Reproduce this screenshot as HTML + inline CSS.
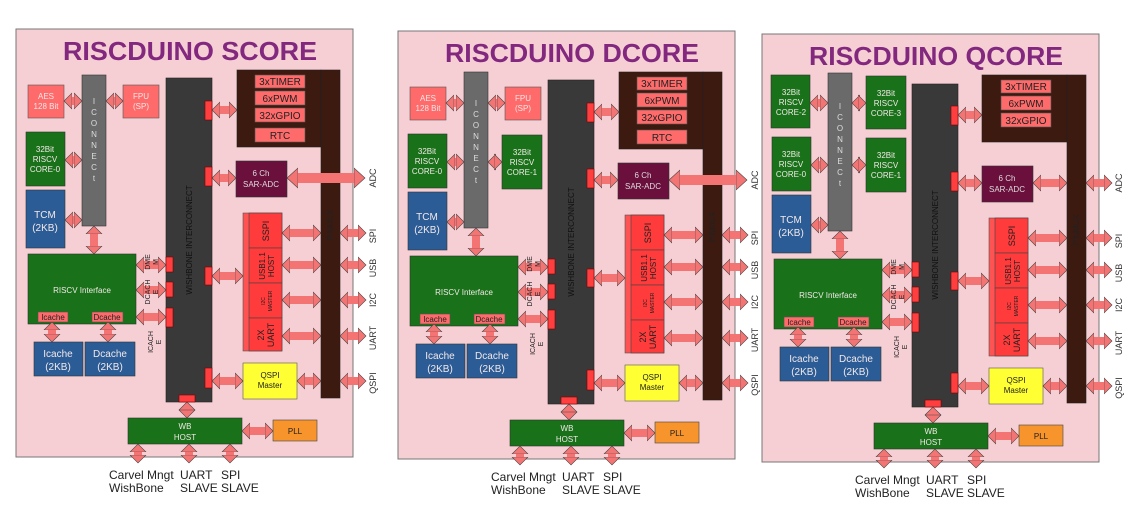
<!DOCTYPE html>
<html><head><meta charset="utf-8"><style>
html,body{margin:0;padding:0;background:#fff;}
svg{display:block;font-family:"Liberation Sans",sans-serif;}
.ln{stroke:#f47474;stroke-width:8;fill:none;marker-start:url(#ah);marker-end:url(#ah);}
.lb{stroke:#f47474;stroke-width:10;fill:none;marker-start:url(#ahb);marker-end:url(#ahb);}
.tab{fill:#ff3f3f;stroke:#700;stroke-width:.6;}
.sal{fill:#ff6b6b;stroke:#555;stroke-width:.6;}
.grn{fill:#197219;stroke:#333;stroke-width:.6;}
.blu{fill:#2b5c96;stroke:#333;stroke-width:.6;}
.w{fill:#f2e8e8;}
.t8{font-size:8px;}
.t9{font-size:9px;}
.t10{font-size:10px;}
.t11{font-size:11px;}
.t12{font-size:12px;}
</style></head><body>
<svg width="1130" height="519" viewBox="0 0 1130 519" xmlns="http://www.w3.org/2000/svg">
<defs>
<marker id="ah" markerUnits="userSpaceOnUse" markerWidth="12" markerHeight="18" refX="2" refY="9" orient="auto-start-reverse" viewBox="0 0 12 18"><path d="M0,1 L8,9 L0,17 z" fill="#f47474" stroke="#444" stroke-width=".6"/></marker>
<marker id="ahb" markerUnits="userSpaceOnUse" markerWidth="14" markerHeight="22" refX="2" refY="11" orient="auto-start-reverse" viewBox="0 0 14 22"><path d="M0,1 L11,11 L0,21 z" fill="#f47474" stroke="#444" stroke-width=".6"/></marker>
</defs>

<!-- ================= PANEL 1 ================= -->
<g>
<rect x="16" y="29" width="337" height="428" fill="#f6cfd4" stroke="#777" stroke-width="1"/>
<text x="190" y="60" text-anchor="middle" font-size="26" font-weight="bold" fill="#83287f" textLength="254" lengthAdjust="spacingAndGlyphs">RISCDUINO SCORE</text>
<rect x="82" y="75" width="24" height="151" fill="#6a6a6a" stroke="#333" stroke-width=".6"/>
<text class="t8" fill="#ddd" text-anchor="middle"><tspan x="94" y="104">I</tspan><tspan x="94" y="115">C</tspan><tspan x="94" y="126">O</tspan><tspan x="94" y="137">N</tspan><tspan x="94" y="148">N</tspan><tspan x="94" y="159">E</tspan><tspan x="94" y="170">C</tspan><tspan x="94" y="181">t</tspan></text>
<rect class="sal" x="28" y="85" width="36" height="33"/>
<text class="t8 w" text-anchor="middle"><tspan x="46" y="99">AES</tspan><tspan x="46" y="109">128 Bit</tspan></text>
<rect class="sal" x="123" y="85" width="36" height="33"/>
<text class="t8 w" text-anchor="middle"><tspan x="141" y="99">FPU</tspan><tspan x="141" y="109">(SP)</tspan></text>
<rect class="grn" x="26" y="132" width="39" height="54"/>
<text class="t8 w" text-anchor="middle"><tspan x="45" y="152">32Bit</tspan><tspan x="45" y="162">RISCV</tspan><tspan x="45" y="172">CORE-0</tspan></text>
<rect class="blu" x="26" y="190" width="39" height="58"/>
<text class="t10 w" text-anchor="middle"><tspan x="45" y="218">TCM</tspan><tspan x="45" y="231">(2KB)</tspan></text>
<line class="ln" x1="70" y1="101" x2="76" y2="101"/>
<line class="ln" x1="112" y1="101" x2="117" y2="101"/>
<line class="ln" x1="71" y1="160" x2="76" y2="160"/>
<line class="ln" x1="71" y1="220" x2="76" y2="220"/>
<line class="ln" x1="94" y1="232" x2="94" y2="248"/>
<rect x="166" y="78" width="46" height="324" fill="#393939" stroke="#222" stroke-width=".6"/>
<text class="t8" fill="#111" transform="translate(192,240) rotate(-90)" text-anchor="middle">WISHBONE INTERCONNECT</text>
<rect x="237" y="70" width="84" height="77" fill="#3c1a10" stroke="#222" stroke-width=".6"/>
<rect x="321" y="70" width="19" height="328" fill="#3c1a10" stroke="#222" stroke-width=".6"/>
<text class="t8" fill="#222" transform="translate(333,225) rotate(-90)" text-anchor="middle">PINMUX</text>
<rect class="sal" x="255" y="75" width="50" height="13"/><text class="t10" fill="#222" x="280" y="85" text-anchor="middle">3xTIMER</text>
<rect class="sal" x="255" y="91" width="50" height="14"/><text class="t10" fill="#222" x="280" y="102" text-anchor="middle">6xPWM</text>
<rect class="sal" x="255" y="108" width="50" height="14"/><text class="t10" fill="#222" x="280" y="119" text-anchor="middle">32xGPIO</text>
<rect class="sal" x="255" y="128" width="50" height="14"/><text class="t10" fill="#222" x="280" y="139" text-anchor="middle">RTC</text>
<rect x="236" y="161" width="51" height="36" fill="#6b0f3c" stroke="#333" stroke-width=".6"/>
<text class="t8" fill="#ddd" text-anchor="middle"><tspan x="261" y="176">6 Ch</tspan><tspan x="261" y="187">SAR-ADC</tspan></text>
<rect x="243" y="213" width="39" height="138" fill="#ff5252" stroke="#555" stroke-width=".6"/>
<rect x="249" y="213" width="33" height="35" fill="#ff3b3b" stroke="#444" stroke-width=".6"/>
<rect x="249" y="248" width="33" height="35" fill="#ff3b3b" stroke="#444" stroke-width=".6"/>
<rect x="249" y="283" width="33" height="35" fill="#ff3b3b" stroke="#444" stroke-width=".6"/>
<rect x="249" y="318" width="33" height="33" fill="#ff3b3b" stroke="#444" stroke-width=".6"/>
<text class="t9" fill="#222" transform="translate(269,231) rotate(-90)" text-anchor="middle">SSPI</text>
<text class="t8" fill="#222" transform="translate(265,266) rotate(-90)" text-anchor="middle"><tspan x="0" y="0">USB1.1</tspan><tspan x="0" y="9">HOST</tspan></text>
<text font-size="5" fill="#222" transform="translate(265,301) rotate(-90)" text-anchor="middle"><tspan x="0" y="0">I2C</tspan><tspan x="0" y="7">MASTER</tspan></text>
<text class="t9" fill="#222" transform="translate(264,335) rotate(-90)" text-anchor="middle"><tspan x="0" y="0">2X</tspan><tspan x="0" y="10">UART</tspan></text>
<rect x="243" y="363" width="54" height="36" fill="#ffff33" stroke="#555" stroke-width=".6"/>
<text class="t8" fill="#222" text-anchor="middle"><tspan x="270" y="378">QSPI</tspan><tspan x="270" y="388">Master</tspan></text>
<rect class="tab" x="205" y="101" width="7" height="19"/>
<rect class="tab" x="205" y="167" width="7" height="19"/>
<rect class="tab" x="205" y="267" width="7" height="18"/>
<rect class="tab" x="205" y="368" width="7" height="20"/>
<rect class="tab" x="166" y="257" width="7" height="15"/>
<rect class="tab" x="166" y="282" width="7" height="15"/>
<rect class="tab" x="166" y="308" width="7" height="19"/>
<rect class="tab" x="179" y="395" width="16" height="7"/>
<line class="ln" x1="218" y1="110" x2="231" y2="110"/>
<line class="ln" x1="218" y1="178" x2="230" y2="178"/>
<line class="lb" x1="296" y1="178" x2="356" y2="178"/>
<line class="ln" x1="288" y1="233" x2="315" y2="233"/>
<line class="ln" x1="346" y1="233" x2="360" y2="233"/>
<line class="ln" x1="218" y1="276" x2="237" y2="276"/>
<line class="ln" x1="288" y1="265" x2="315" y2="265"/>
<line class="ln" x1="346" y1="265" x2="360" y2="265"/>
<line class="ln" x1="288" y1="300" x2="315" y2="300"/>
<line class="ln" x1="346" y1="300" x2="360" y2="300"/>
<line class="ln" x1="288" y1="336" x2="315" y2="336"/>
<line class="ln" x1="346" y1="336" x2="360" y2="336"/>
<line class="ln" x1="218" y1="381" x2="237" y2="381"/>
<line class="ln" x1="303" y1="381" x2="315" y2="381"/>
<line class="ln" x1="346" y1="381" x2="360" y2="381"/>
<text class="t9" fill="#333" text-anchor="middle"><tspan transform="" x="0" y="0"></tspan></text>
<text class="t9" fill="#333" transform="translate(376,178) rotate(-90)" text-anchor="middle">ADC</text>
<text class="t9" fill="#333" transform="translate(376,236) rotate(-90)" text-anchor="middle">SPI</text>
<text class="t9" fill="#333" transform="translate(376,268) rotate(-90)" text-anchor="middle">USB</text>
<text class="t9" fill="#333" transform="translate(376,300) rotate(-90)" text-anchor="middle">I2C</text>
<text class="t9" fill="#333" transform="translate(376,338) rotate(-90)" text-anchor="middle">UART</text>
<text class="t9" fill="#333" transform="translate(376,383) rotate(-90)" text-anchor="middle">QSPI</text>
<rect class="grn" x="28" y="254" width="108" height="70"/>
<text class="t8 w" x="82" y="293" text-anchor="middle">RISCV Interface</text>
<rect class="sal" x="38" y="312" width="30" height="10"/><text class="t8" fill="#222" x="53" y="320" text-anchor="middle">Icache</text>
<rect class="sal" x="92" y="312" width="31" height="10"/><text class="t8" fill="#222" x="107" y="320" text-anchor="middle">Dcache</text>
<rect class="blu" x="34" y="342" width="49" height="34"/>
<text class="t10 w" text-anchor="middle"><tspan x="58" y="357">Icache</tspan><tspan x="58" y="370">(2KB)</tspan></text>
<rect class="blu" x="85" y="342" width="50" height="34"/>
<text class="t10 w" text-anchor="middle"><tspan x="110" y="357">Dcache</tspan><tspan x="110" y="370">(2KB)</tspan></text>
<line class="ln" x1="52" y1="328" x2="52" y2="336"/>
<line class="ln" x1="108" y1="328" x2="108" y2="336"/>
<line class="ln" x1="142" y1="265" x2="160" y2="265"/>
<line class="ln" x1="142" y1="290" x2="160" y2="290"/>
<line class="ln" x1="142" y1="317" x2="160" y2="317"/>
<text font-size="7" fill="#222" transform="translate(152,262) rotate(-90)" text-anchor="middle"><tspan x="0" y="-2">DME</tspan><tspan x="0" y="6">M</tspan></text>
<text font-size="7" fill="#222" transform="translate(152,292) rotate(-90)" text-anchor="middle"><tspan x="0" y="-2">DCACH</tspan><tspan x="0" y="6">E</tspan></text>
<text font-size="7" fill="#222" transform="translate(155,342) rotate(-90)" text-anchor="middle"><tspan x="0" y="-2">ICACH</tspan><tspan x="0" y="6">E</tspan></text>
<line class="ln" x1="187" y1="408" x2="187" y2="412"/>
<rect class="grn" x="128" y="418" width="114" height="26"/>
<text class="t8 w" text-anchor="middle"><tspan x="185" y="429">WB</tspan><tspan x="185" y="440">HOST</tspan></text>
<rect x="273" y="420" width="44" height="21" fill="#f7942b" stroke="#444" stroke-width=".6"/>
<text class="t8" fill="#222" x="295" y="434" text-anchor="middle">PLL</text>
<line class="ln" x1="248" y1="431" x2="267" y2="431"/>
<line class="ln" x1="138" y1="450" x2="138" y2="457"/>
<line class="ln" x1="189" y1="450" x2="189" y2="457"/>
<line class="ln" x1="230" y1="450" x2="230" y2="457"/>
<text class="t12" fill="#222"><tspan x="109" y="479">Carvel Mngt</tspan><tspan x="109" y="492">WishBone</tspan></text>
<text class="t12" fill="#222"><tspan x="180" y="479">UART</tspan><tspan x="180" y="492">SLAVE</tspan></text>
<text class="t12" fill="#222"><tspan x="221" y="479">SPI</tspan><tspan x="221" y="492">SLAVE</tspan></text>
</g>

<!-- ================= PANEL 2 ================= -->
<g transform="translate(382,2)">
<rect x="16" y="29" width="337" height="428" fill="#f6cfd4" stroke="#777" stroke-width="1"/>
<text x="190" y="60" text-anchor="middle" font-size="26" font-weight="bold" fill="#83287f" textLength="254" lengthAdjust="spacingAndGlyphs">RISCDUINO DCORE</text>
<rect x="82" y="70" width="24" height="156" fill="#6a6a6a" stroke="#333" stroke-width=".6"/>
<text class="t8" fill="#ddd" text-anchor="middle"><tspan x="94" y="104">I</tspan><tspan x="94" y="115">C</tspan><tspan x="94" y="126">O</tspan><tspan x="94" y="137">N</tspan><tspan x="94" y="148">N</tspan><tspan x="94" y="159">E</tspan><tspan x="94" y="170">C</tspan><tspan x="94" y="181">t</tspan></text>
<rect class="sal" x="28" y="85" width="36" height="33"/>
<text class="t8 w" text-anchor="middle"><tspan x="46" y="99">AES</tspan><tspan x="46" y="109">128 Bit</tspan></text>
<rect class="sal" x="123" y="85" width="36" height="33"/>
<text class="t8 w" text-anchor="middle"><tspan x="141" y="99">FPU</tspan><tspan x="141" y="109">(SP)</tspan></text>
<rect class="grn" x="26" y="132" width="39" height="54"/>
<text class="t8 w" text-anchor="middle"><tspan x="45" y="152">32Bit</tspan><tspan x="45" y="162">RISCV</tspan><tspan x="45" y="172">CORE-0</tspan></text>
<rect class="grn" x="120" y="133" width="40" height="54"/>
<text class="t8 w" text-anchor="middle"><tspan x="140" y="153">32Bit</tspan><tspan x="140" y="163">RISCV</tspan><tspan x="140" y="173">CORE-1</tspan></text>
<rect class="blu" x="26" y="190" width="39" height="58"/>
<text class="t10 w" text-anchor="middle"><tspan x="45" y="218">TCM</tspan><tspan x="45" y="231">(2KB)</tspan></text>
<line class="ln" x1="70" y1="101" x2="76" y2="101"/>
<line class="ln" x1="112" y1="101" x2="117" y2="101"/>
<line class="ln" x1="71" y1="160" x2="76" y2="160"/>
<line class="ln" x1="112" y1="160" x2="114" y2="160"/>
<line class="ln" x1="71" y1="220" x2="76" y2="220"/>
<line class="ln" x1="94" y1="232" x2="94" y2="248"/>
<rect x="166" y="78" width="46" height="324" fill="#393939" stroke="#222" stroke-width=".6"/>
<text class="t8" fill="#111" transform="translate(192,240) rotate(-90)" text-anchor="middle">WISHBONE INTERCONNECT</text>
<rect x="237" y="70" width="84" height="77" fill="#3c1a10" stroke="#222" stroke-width=".6"/>
<rect x="321" y="70" width="19" height="328" fill="#3c1a10" stroke="#222" stroke-width=".6"/>
<text class="t8" fill="#222" transform="translate(333,225) rotate(-90)" text-anchor="middle">PINMUX</text>
<rect class="sal" x="255" y="75" width="50" height="13"/><text class="t10" fill="#222" x="280" y="85" text-anchor="middle">3xTIMER</text>
<rect class="sal" x="255" y="91" width="50" height="14"/><text class="t10" fill="#222" x="280" y="102" text-anchor="middle">6xPWM</text>
<rect class="sal" x="255" y="108" width="50" height="14"/><text class="t10" fill="#222" x="280" y="119" text-anchor="middle">32xGPIO</text>
<rect class="sal" x="255" y="128" width="50" height="14"/><text class="t10" fill="#222" x="280" y="139" text-anchor="middle">RTC</text>
<rect x="236" y="161" width="51" height="36" fill="#6b0f3c" stroke="#333" stroke-width=".6"/>
<text class="t8" fill="#ddd" text-anchor="middle"><tspan x="261" y="176">6 Ch</tspan><tspan x="261" y="187">SAR-ADC</tspan></text>
<rect x="243" y="213" width="39" height="138" fill="#ff5252" stroke="#555" stroke-width=".6"/>
<rect x="249" y="213" width="33" height="35" fill="#ff3b3b" stroke="#444" stroke-width=".6"/>
<rect x="249" y="248" width="33" height="35" fill="#ff3b3b" stroke="#444" stroke-width=".6"/>
<rect x="249" y="283" width="33" height="35" fill="#ff3b3b" stroke="#444" stroke-width=".6"/>
<rect x="249" y="318" width="33" height="33" fill="#ff3b3b" stroke="#444" stroke-width=".6"/>
<text class="t9" fill="#222" transform="translate(269,231) rotate(-90)" text-anchor="middle">SSPI</text>
<text class="t8" fill="#222" transform="translate(265,266) rotate(-90)" text-anchor="middle"><tspan x="0" y="0">USB1.1</tspan><tspan x="0" y="9">HOST</tspan></text>
<text font-size="5" fill="#222" transform="translate(265,301) rotate(-90)" text-anchor="middle"><tspan x="0" y="0">I2C</tspan><tspan x="0" y="7">MASTER</tspan></text>
<text class="t9" fill="#222" transform="translate(264,335) rotate(-90)" text-anchor="middle"><tspan x="0" y="0">2X</tspan><tspan x="0" y="10">UART</tspan></text>
<rect x="243" y="363" width="54" height="36" fill="#ffff33" stroke="#555" stroke-width=".6"/>
<text class="t8" fill="#222" text-anchor="middle"><tspan x="270" y="378">QSPI</tspan><tspan x="270" y="388">Master</tspan></text>
<rect class="tab" x="205" y="101" width="7" height="19"/>
<rect class="tab" x="205" y="167" width="7" height="19"/>
<rect class="tab" x="205" y="267" width="7" height="18"/>
<rect class="tab" x="205" y="368" width="7" height="20"/>
<rect class="tab" x="166" y="257" width="7" height="15"/>
<rect class="tab" x="166" y="282" width="7" height="15"/>
<rect class="tab" x="166" y="308" width="7" height="19"/>
<rect class="tab" x="179" y="395" width="16" height="7"/>
<line class="ln" x1="218" y1="110" x2="231" y2="110"/>
<line class="ln" x1="218" y1="178" x2="230" y2="178"/>
<line class="lb" x1="296" y1="178" x2="356" y2="178"/>
<line class="ln" x1="288" y1="233" x2="315" y2="233"/>
<line class="ln" x1="346" y1="233" x2="360" y2="233"/>
<line class="ln" x1="218" y1="276" x2="237" y2="276"/>
<line class="ln" x1="288" y1="265" x2="315" y2="265"/>
<line class="ln" x1="346" y1="265" x2="360" y2="265"/>
<line class="ln" x1="288" y1="300" x2="315" y2="300"/>
<line class="ln" x1="346" y1="300" x2="360" y2="300"/>
<line class="ln" x1="288" y1="336" x2="315" y2="336"/>
<line class="ln" x1="346" y1="336" x2="360" y2="336"/>
<line class="ln" x1="218" y1="381" x2="237" y2="381"/>
<line class="ln" x1="303" y1="381" x2="315" y2="381"/>
<line class="ln" x1="346" y1="381" x2="360" y2="381"/>
<text class="t9" fill="#333" transform="translate(376,178) rotate(-90)" text-anchor="middle">ADC</text>
<text class="t9" fill="#333" transform="translate(376,236) rotate(-90)" text-anchor="middle">SPI</text>
<text class="t9" fill="#333" transform="translate(376,268) rotate(-90)" text-anchor="middle">USB</text>
<text class="t9" fill="#333" transform="translate(376,300) rotate(-90)" text-anchor="middle">I2C</text>
<text class="t9" fill="#333" transform="translate(376,338) rotate(-90)" text-anchor="middle">UART</text>
<text class="t9" fill="#333" transform="translate(376,383) rotate(-90)" text-anchor="middle">QSPI</text>
<rect class="grn" x="28" y="254" width="108" height="70"/>
<text class="t8 w" x="82" y="293" text-anchor="middle">RISCV Interface</text>
<rect class="sal" x="38" y="312" width="30" height="10"/><text class="t8" fill="#222" x="53" y="320" text-anchor="middle">Icache</text>
<rect class="sal" x="92" y="312" width="31" height="10"/><text class="t8" fill="#222" x="107" y="320" text-anchor="middle">Dcache</text>
<rect class="blu" x="34" y="342" width="49" height="34"/>
<text class="t10 w" text-anchor="middle"><tspan x="58" y="357">Icache</tspan><tspan x="58" y="370">(2KB)</tspan></text>
<rect class="blu" x="85" y="342" width="50" height="34"/>
<text class="t10 w" text-anchor="middle"><tspan x="110" y="357">Dcache</tspan><tspan x="110" y="370">(2KB)</tspan></text>
<line class="ln" x1="52" y1="328" x2="52" y2="336"/>
<line class="ln" x1="108" y1="328" x2="108" y2="336"/>
<line class="ln" x1="142" y1="265" x2="160" y2="265"/>
<line class="ln" x1="142" y1="290" x2="160" y2="290"/>
<line class="ln" x1="142" y1="317" x2="160" y2="317"/>
<text font-size="7" fill="#222" transform="translate(152,262) rotate(-90)" text-anchor="middle"><tspan x="0" y="-2">DME</tspan><tspan x="0" y="6">M</tspan></text>
<text font-size="7" fill="#222" transform="translate(152,292) rotate(-90)" text-anchor="middle"><tspan x="0" y="-2">DCACH</tspan><tspan x="0" y="6">E</tspan></text>
<text font-size="7" fill="#222" transform="translate(155,342) rotate(-90)" text-anchor="middle"><tspan x="0" y="-2">ICACH</tspan><tspan x="0" y="6">E</tspan></text>
<line class="ln" x1="187" y1="408" x2="187" y2="412"/>
<rect class="grn" x="128" y="418" width="114" height="26"/>
<text class="t8 w" text-anchor="middle"><tspan x="185" y="429">WB</tspan><tspan x="185" y="440">HOST</tspan></text>
<rect x="273" y="420" width="44" height="21" fill="#f7942b" stroke="#444" stroke-width=".6"/>
<text class="t8" fill="#222" x="295" y="434" text-anchor="middle">PLL</text>
<line class="ln" x1="248" y1="431" x2="267" y2="431"/>
<line class="ln" x1="138" y1="450" x2="138" y2="457"/>
<line class="ln" x1="189" y1="450" x2="189" y2="457"/>
<line class="ln" x1="230" y1="450" x2="230" y2="457"/>
<text class="t12" fill="#222"><tspan x="109" y="479">Carvel Mngt</tspan><tspan x="109" y="492">WishBone</tspan></text>
<text class="t12" fill="#222"><tspan x="180" y="479">UART</tspan><tspan x="180" y="492">SLAVE</tspan></text>
<text class="t12" fill="#222"><tspan x="221" y="479">SPI</tspan><tspan x="221" y="492">SLAVE</tspan></text>
</g>

<!-- ================= PANEL 3 ================= -->
<g transform="translate(746,5)">
<rect x="16" y="29" width="337" height="428" fill="#f6cfd4" stroke="#777" stroke-width="1"/>
<text x="190" y="60" text-anchor="middle" font-size="26" font-weight="bold" fill="#83287f" textLength="254" lengthAdjust="spacingAndGlyphs">RISCDUINO QCORE</text>
<rect x="82" y="68" width="24" height="158" fill="#6a6a6a" stroke="#333" stroke-width=".6"/>
<text class="t8" fill="#ddd" text-anchor="middle"><tspan x="94" y="104">I</tspan><tspan x="94" y="115">C</tspan><tspan x="94" y="126">O</tspan><tspan x="94" y="137">N</tspan><tspan x="94" y="148">N</tspan><tspan x="94" y="159">E</tspan><tspan x="94" y="170">C</tspan><tspan x="94" y="181">t</tspan></text>
<rect class="grn" x="25" y="70" width="39" height="53"/>
<text class="t8 w" text-anchor="middle"><tspan x="45" y="90">32Bit</tspan><tspan x="45" y="100">RISCV</tspan><tspan x="45" y="110">CORE-2</tspan></text>
<rect class="grn" x="120" y="71" width="40" height="53"/>
<text class="t8 w" text-anchor="middle"><tspan x="140" y="91">32Bit</tspan><tspan x="140" y="101">RISCV</tspan><tspan x="140" y="111">CORE-3</tspan></text>
<rect class="grn" x="26" y="132" width="39" height="54"/>
<text class="t8 w" text-anchor="middle"><tspan x="45" y="152">32Bit</tspan><tspan x="45" y="162">RISCV</tspan><tspan x="45" y="172">CORE-0</tspan></text>
<rect class="grn" x="120" y="133" width="40" height="54"/>
<text class="t8 w" text-anchor="middle"><tspan x="140" y="153">32Bit</tspan><tspan x="140" y="163">RISCV</tspan><tspan x="140" y="173">CORE-1</tspan></text>
<rect class="blu" x="26" y="190" width="39" height="58"/>
<text class="t10 w" text-anchor="middle"><tspan x="45" y="218">TCM</tspan><tspan x="45" y="231">(2KB)</tspan></text>
<line class="ln" x1="70" y1="98" x2="76" y2="98"/>
<line class="ln" x1="112" y1="98" x2="114" y2="98"/>
<line class="ln" x1="71" y1="160" x2="76" y2="160"/>
<line class="ln" x1="112" y1="160" x2="114" y2="160"/>
<line class="ln" x1="71" y1="220" x2="76" y2="220"/>
<line class="ln" x1="94" y1="232" x2="94" y2="248"/>
<rect x="166" y="79" width="46" height="323" fill="#393939" stroke="#222" stroke-width=".6"/>
<text class="t8" fill="#111" transform="translate(192,240) rotate(-90)" text-anchor="middle">WISHBONE INTERCONNECT</text>
<rect x="236" y="70" width="85" height="67" fill="#3c1a10" stroke="#222" stroke-width=".6"/>
<rect x="321" y="70" width="19" height="328" fill="#3c1a10" stroke="#222" stroke-width=".6"/>
<text class="t8" fill="#222" transform="translate(333,225) rotate(-90)" text-anchor="middle">PINMUX</text>
<rect class="sal" x="255" y="75" width="50" height="13"/><text class="t10" fill="#222" x="280" y="85" text-anchor="middle">3xTIMER</text>
<rect class="sal" x="255" y="91" width="50" height="14"/><text class="t10" fill="#222" x="280" y="102" text-anchor="middle">6xPWM</text>
<rect class="sal" x="255" y="108" width="50" height="14"/><text class="t10" fill="#222" x="280" y="119" text-anchor="middle">32xGPIO</text>
<rect x="236" y="161" width="51" height="36" fill="#6b0f3c" stroke="#333" stroke-width=".6"/>
<text class="t8" fill="#ddd" text-anchor="middle"><tspan x="261" y="176">6 Ch</tspan><tspan x="261" y="187">SAR-ADC</tspan></text>
<rect x="243" y="213" width="39" height="138" fill="#ff5252" stroke="#555" stroke-width=".6"/>
<rect x="249" y="213" width="33" height="35" fill="#ff3b3b" stroke="#444" stroke-width=".6"/>
<rect x="249" y="248" width="33" height="35" fill="#ff3b3b" stroke="#444" stroke-width=".6"/>
<rect x="249" y="283" width="33" height="35" fill="#ff3b3b" stroke="#444" stroke-width=".6"/>
<rect x="249" y="318" width="33" height="33" fill="#ff3b3b" stroke="#444" stroke-width=".6"/>
<text class="t9" fill="#222" transform="translate(269,231) rotate(-90)" text-anchor="middle">SSPI</text>
<text class="t8" fill="#222" transform="translate(265,266) rotate(-90)" text-anchor="middle"><tspan x="0" y="0">USB1.1</tspan><tspan x="0" y="9">HOST</tspan></text>
<text font-size="5" fill="#222" transform="translate(265,301) rotate(-90)" text-anchor="middle"><tspan x="0" y="0">I2C</tspan><tspan x="0" y="7">MASTER</tspan></text>
<text class="t9" fill="#222" transform="translate(264,335) rotate(-90)" text-anchor="middle"><tspan x="0" y="0">2X</tspan><tspan x="0" y="10">UART</tspan></text>
<rect x="243" y="363" width="54" height="36" fill="#ffff33" stroke="#555" stroke-width=".6"/>
<text class="t8" fill="#222" text-anchor="middle"><tspan x="270" y="378">QSPI</tspan><tspan x="270" y="388">Master</tspan></text>
<rect class="tab" x="205" y="101" width="7" height="19"/>
<rect class="tab" x="205" y="167" width="7" height="19"/>
<rect class="tab" x="205" y="267" width="7" height="18"/>
<rect class="tab" x="205" y="368" width="7" height="20"/>
<rect class="tab" x="166" y="257" width="7" height="15"/>
<rect class="tab" x="166" y="282" width="7" height="15"/>
<rect class="tab" x="166" y="308" width="7" height="19"/>
<rect class="tab" x="179" y="395" width="16" height="7"/>
<line class="ln" x1="218" y1="110" x2="230" y2="110"/>
<line class="ln" x1="218" y1="178" x2="230" y2="178"/>
<line class="ln" x1="293" y1="178" x2="315" y2="178"/>
<line class="ln" x1="346" y1="178" x2="360" y2="178"/>
<line class="ln" x1="288" y1="233" x2="315" y2="233"/>
<line class="ln" x1="346" y1="233" x2="360" y2="233"/>
<line class="ln" x1="218" y1="276" x2="237" y2="276"/>
<line class="ln" x1="288" y1="265" x2="315" y2="265"/>
<line class="ln" x1="346" y1="265" x2="360" y2="265"/>
<line class="ln" x1="288" y1="300" x2="315" y2="300"/>
<line class="ln" x1="346" y1="300" x2="360" y2="300"/>
<line class="ln" x1="288" y1="336" x2="315" y2="336"/>
<line class="ln" x1="346" y1="336" x2="360" y2="336"/>
<line class="ln" x1="218" y1="381" x2="237" y2="381"/>
<line class="ln" x1="303" y1="381" x2="315" y2="381"/>
<line class="ln" x1="346" y1="381" x2="360" y2="381"/>
<text class="t9" fill="#333" transform="translate(376,178) rotate(-90)" text-anchor="middle">ADC</text>
<text class="t9" fill="#333" transform="translate(376,236) rotate(-90)" text-anchor="middle">SPI</text>
<text class="t9" fill="#333" transform="translate(376,268) rotate(-90)" text-anchor="middle">USB</text>
<text class="t9" fill="#333" transform="translate(376,300) rotate(-90)" text-anchor="middle">I2C</text>
<text class="t9" fill="#333" transform="translate(376,338) rotate(-90)" text-anchor="middle">UART</text>
<text class="t9" fill="#333" transform="translate(376,383) rotate(-90)" text-anchor="middle">QSPI</text>
<rect class="grn" x="28" y="254" width="108" height="70"/>
<text class="t8 w" x="82" y="293" text-anchor="middle">RISCV Interface</text>
<rect class="sal" x="38" y="312" width="30" height="10"/><text class="t8" fill="#222" x="53" y="320" text-anchor="middle">Icache</text>
<rect class="sal" x="92" y="312" width="31" height="10"/><text class="t8" fill="#222" x="107" y="320" text-anchor="middle">Dcache</text>
<rect class="blu" x="34" y="342" width="49" height="34"/>
<text class="t10 w" text-anchor="middle"><tspan x="58" y="357">Icache</tspan><tspan x="58" y="370">(2KB)</tspan></text>
<rect class="blu" x="85" y="342" width="50" height="34"/>
<text class="t10 w" text-anchor="middle"><tspan x="110" y="357">Dcache</tspan><tspan x="110" y="370">(2KB)</tspan></text>
<line class="ln" x1="52" y1="328" x2="52" y2="336"/>
<line class="ln" x1="108" y1="328" x2="108" y2="336"/>
<line class="ln" x1="142" y1="265" x2="160" y2="265"/>
<line class="ln" x1="142" y1="290" x2="160" y2="290"/>
<line class="ln" x1="142" y1="317" x2="160" y2="317"/>
<text font-size="7" fill="#222" transform="translate(152,262) rotate(-90)" text-anchor="middle"><tspan x="0" y="-2">DME</tspan><tspan x="0" y="6">M</tspan></text>
<text font-size="7" fill="#222" transform="translate(152,292) rotate(-90)" text-anchor="middle"><tspan x="0" y="-2">DCACH</tspan><tspan x="0" y="6">E</tspan></text>
<text font-size="7" fill="#222" transform="translate(155,342) rotate(-90)" text-anchor="middle"><tspan x="0" y="-2">ICACH</tspan><tspan x="0" y="6">E</tspan></text>
<line class="ln" x1="187" y1="408" x2="187" y2="412"/>
<rect class="grn" x="128" y="418" width="114" height="26"/>
<text class="t8 w" text-anchor="middle"><tspan x="185" y="429">WB</tspan><tspan x="185" y="440">HOST</tspan></text>
<rect x="273" y="420" width="44" height="21" fill="#f7942b" stroke="#444" stroke-width=".6"/>
<text class="t8" fill="#222" x="295" y="434" text-anchor="middle">PLL</text>
<line class="ln" x1="248" y1="431" x2="267" y2="431"/>
<line class="ln" x1="138" y1="450" x2="138" y2="457"/>
<line class="ln" x1="189" y1="450" x2="189" y2="457"/>
<line class="ln" x1="230" y1="450" x2="230" y2="457"/>
<text class="t12" fill="#222"><tspan x="109" y="479">Carvel Mngt</tspan><tspan x="109" y="492">WishBone</tspan></text>
<text class="t12" fill="#222"><tspan x="180" y="479">UART</tspan><tspan x="180" y="492">SLAVE</tspan></text>
<text class="t12" fill="#222"><tspan x="221" y="479">SPI</tspan><tspan x="221" y="492">SLAVE</tspan></text>
</g>
</svg>
</body></html>
